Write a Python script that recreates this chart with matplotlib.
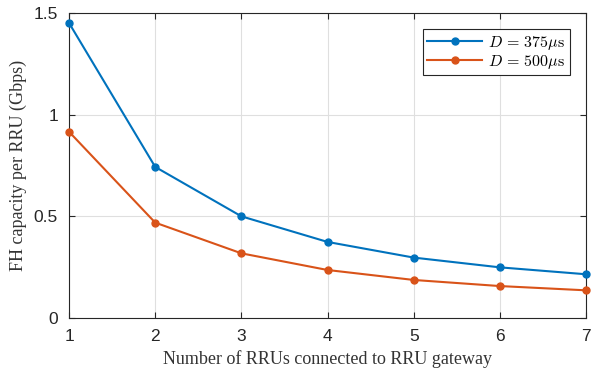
import matplotlib
matplotlib.use("Agg")
import matplotlib.pyplot as plt

# data
n_rru = [1, 2, 3, 4, 5, 6, 7]
cap_375 = [1.451, 0.743, 0.500, 0.374, 0.297, 0.249, 0.215]
cap_500 = [0.916, 0.469, 0.318, 0.236, 0.187, 0.157, 0.136]
labels = [r"$D\,=\,375\mu\mathrm{s}$", r"$D\,=\,500\mu\mathrm{s}$"]

plt.rcParams["mathtext.fontset"] = "cm"

fig = plt.figure(figsize=(5.92, 3.79), dpi=100)
ax = fig.add_axes([0.1166, 0.161, 0.8734, 0.8047])

ax.plot(n_rru, cap_375, color="#0072BD", marker="o", markersize=5, lw=1.5,
        label=labels[0], clip_on=False, zorder=3)
ax.plot(n_rru, cap_500, color="#D95319", marker="o", markersize=5, lw=1.5,
        label=labels[1], clip_on=False, zorder=3)

ax.set_xlim(1, 7)
ax.set_ylim(0, 1.5)
ax.set_xticks(n_rru)
ax.set_yticks([0, 0.5, 1, 1.5])
ax.set_yticklabels(["0", "0.5", "1", "1.5"])
ax.grid(True, color="#dfdfdf", lw=0.8)
ax.set_axisbelow(True)

for s in ax.spines.values():
    s.set_color("#262626")
    s.set_linewidth(0.8)
ax.tick_params(direction="in", top=True, right=True, length=4, color="#262626",
               labelcolor="#262626", labelsize=12.5, pad=8)
for t in ax.get_xticklabels() + ax.get_yticklabels():
    t.set_fontfamily("Liberation Sans")

ax.set_xlabel("Number of RRUs connected to RRU gateway", family="Liberation Serif",
              fontsize=13, color="#333333", labelpad=4)
ax.set_ylabel("FH capacity per RRU (Gbps)", family="Liberation Serif",
              fontsize=13, color="#333333", labelpad=5)

leg = ax.legend(loc="upper right", fontsize=11.5, fancybox=False, framealpha=1,
                edgecolor="#262626", borderpad=0.3, handlelength=3.4,
                handletextpad=0.4, labelspacing=0.05, borderaxespad=1.0)
leg.get_frame().set_linewidth(0.8)

fig.savefig("out.png", dpi=100)
